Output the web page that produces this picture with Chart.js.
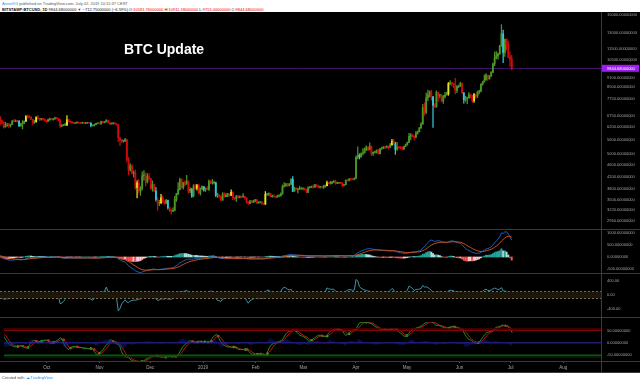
<!DOCTYPE html>
<html><head><meta charset="utf-8"><title>BTC Update</title>
<script src="https://cdn.jsdelivr.net/npm/chart.js@4.4.1/dist/chart.umd.min.js"></script>
<style>
html,body{margin:0;padding:0;width:640px;height:383px;overflow:hidden;background:#fff;font-family:"Liberation Sans",Arial,sans-serif}
#frame{position:absolute;left:0;top:12px;width:640px;height:361px;background:#000}
.pane{position:absolute;left:0;width:640px}
.pane canvas{display:block}
.sep{position:absolute;left:0;width:640px;height:1px;background:#3a3a3a}
.hdr{position:absolute;left:2px;font-size:4px;line-height:5px;white-space:nowrap;color:#555}
#title{position:absolute;left:124px;top:41px;color:#fff;font:bold 14px "Liberation Sans",Arial,sans-serif;white-space:nowrap}
#foot{position:absolute;left:2px;top:375px;font-size:4px;line-height:5px;color:#555;white-space:nowrap}
</style></head><body>
<div class="hdr" style="top:1px"><span style="color:#2196f3">AnnieKG</span> published on TradingView.com, July 02, 2019 10:15:37 CEST</div>
<div class="hdr" style="top:7px;color:#111"><b>BITSTAMP:BTCUSD, 1D</b> 9844.68000000 <span style="color:#e00">▼</span> −712.75000000 (−6.59%) O:<span style="color:#e00">10581.76000000</span> H:<span style="color:#e00">10911.18000000</span> L:<span style="color:#e00">9713.00000000</span> C:<span style="color:#e00">9844.68000000</span></div>
<div id="frame"></div>
<div class="pane" style="top:12px;height:218px"><canvas id="cPrice" width="640" height="218"></canvas></div>
<div class="pane" style="top:230px;height:44px"><canvas id="cMacd" width="640" height="44"></canvas></div>
<div class="pane" style="top:274px;height:44px"><canvas id="cCci" width="640" height="44"></canvas></div>
<div class="pane" style="top:318px;height:54px"><canvas id="cWt" width="640" height="54"></canvas></div>
<div class="sep" style="top:229px"></div>
<div class="sep" style="top:273px"></div>
<div class="sep" style="top:317px"></div>
<div class="sep" style="top:361px"></div>
<div class="sep" style="top:372px"></div>
<div style="position:absolute;left:601px;top:12px;width:1px;height:361px;background:#3a3a3a"></div>
<div id="title">BTC Update</div>
<div id="foot">Created with <span style="color:#2196f3">☁ TradingView</span></div>
<script>
// ---- data (BITSTAMP:BTCUSD daily, from 2018-08-01) ----
const startDate = '2018-08-01';
const firstOpen = 7730;
const closes = [
7600,7540,7410,7010,7030,6940,6720,6280,6540,6150,6240,6310,6250,6190,6270,6310,6580,6390,6490,6260,6470,6360,6530,6700,6720,6710,6910,7080,7040,6980,7030,
7190,7270,7260,7360,6700,6510,6410,6200,6250,6300,6280,6330,6490,6480,6520,6500,6250,6340,6390,6490,6750,6710,6700,6590,6430,6460,6680,6630,6600,6620,
6590,6530,6480,6570,6620,6580,6610,6670,6640,6580,6240,6290,6290,6300,6560,6480,6450,6420,6390,6410,6420,6400,6390,6410,6390,6400,6410,6400,6270,6270,6320,
6370,6390,6360,6480,6420,6460,6530,6420,6350,6380,6390,6360,6310,5700,5600,5560,5560,5620,4800,4420,4570,4300,4310,3850,4000,3750,3820,4230,4250,4020,
4200,4130,3830,3950,3750,3500,3400,3410,3550,3450,3400,3480,3280,3220,3190,3220,3510,3660,3790,4100,3850,4000,3950,4050,3750,3800,3600,3900,3820,3920,3690,
3820,3880,3780,3820,3790,4040,3990,3990,4000,3620,3620,3590,3490,3660,3580,3620,3660,3620,3710,3540,3530,3590,3560,3590,3580,3580,3550,3430,3400,3460,3430,
3460,3500,3410,3420,3440,3390,3380,3650,3650,3680,3590,3610,3590,3570,3590,3610,3660,3880,3900,3960,3910,3950,4110,3740,3830,3800,3810,3810,
3820,3820,3790,3710,3850,3860,3870,3860,3930,3910,3860,3880,3860,3870,3910,4000,3980,3980,4020,4050,3980,3990,4000,3990,3920,3940,4080,4070,4120,4110,4100,
4140,4880,4960,4900,5040,5060,5200,5290,5190,5330,5030,5080,5080,5160,5030,5220,5240,5290,5280,5330,5290,5390,5540,5430,5200,5290,5280,5270,5210,5330,
5400,5490,5760,5820,5780,5720,5910,5980,6160,6340,7220,6960,7800,7980,8190,7870,7350,7260,8150,7950,7950,7620,7880,7990,8060,8730,8800,8740,8660,8270,8550,
8560,8740,8120,7690,7780,7800,8000,7930,7630,8010,7910,8150,8230,8690,8840,8980,9320,9080,9270,9530,10200,10700,10860,11030,11750,12930,11150,12370,11880,10750,
10581.76,9844.68];
const highs = [
7750,7700,7540,7490,7090,7160,7150,6730,6620,6560,6490,6460,6540,6260,6620,6480,6590,6620,6580,6540,6500,6880,6560,6720,6800,6730,6930,7120,7140,7070,7070,
7250,7340,7330,7410,7380,6720,6560,6460,6440,6380,6400,6350,6530,6570,6560,6530,6520,6390,6520,6510,6780,6820,6780,6720,6600,6540,6730,6800,6640,6640,
6640,6610,6540,6600,6650,6630,6630,6700,6680,6640,6580,6320,6310,6390,6780,6600,6500,6480,6420,6420,6460,6430,6410,6450,6420,6420,6420,6420,6410,6290,6340,
6400,6410,6400,6500,6480,6470,6580,6540,6440,6400,6400,6420,6370,6330,5730,5630,5580,5670,5610,4880,4650,4600,4390,4420,4070,4110,3880,4360,4400,4320,
4300,4300,4140,4060,3960,3860,3560,3480,3650,3600,3470,3510,3490,3300,3250,3280,3590,3680,4000,4150,4130,4010,4060,4240,4050,3850,3830,3940,3960,3950,3940,
3840,3900,3880,3840,3880,4090,4070,4110,4050,4020,3680,3640,3610,3700,3690,3680,3680,3670,3780,3720,3570,3620,3620,3610,3590,3670,3600,3560,3450,3480,3480,
3480,3510,3500,3440,3450,3440,3410,3730,3670,3690,3680,3630,3640,3600,3630,3640,3690,3930,4000,3980,3980,3980,4130,4200,3860,3840,3830,3890,
3850,3830,3840,3800,3870,3890,3900,3930,3950,3930,3920,3890,3890,3920,3930,4050,4010,4040,4040,4070,4080,4010,4010,4000,4000,3950,4090,4090,4130,4140,4120,
4160,4940,5300,5020,5060,5230,5260,5350,5300,5470,5340,5100,5130,5180,5200,5240,5290,5320,5340,5350,5340,5450,5630,5620,5500,5500,5320,5310,5300,5340,
5420,5510,5900,5890,5840,5790,5990,6010,6170,6420,7420,7500,8100,8300,8230,8290,7900,7450,8250,8150,8040,8030,7950,8140,8170,8800,8930,8820,8740,9100,8600,
8620,8830,8760,8120,7900,7850,8130,8040,7950,8080,8020,8230,8300,8710,8880,9350,9440,9340,9300,9590,10250,11200,11240,11100,11800,13880,13300,12400,12420,12200,
11200,10911.18];
const lows = [
7460,7460,7300,6960,6880,6850,6680,6140,6200,6060,6000,6160,6170,5880,6170,6220,6290,6310,6300,6240,6250,6280,6360,6480,6660,6610,6690,6880,6990,6860,6880,
7010,7160,7220,7220,6680,6300,6370,6140,6200,6250,6180,6200,6320,6450,6470,6440,6230,6240,6110,6370,6480,6660,6670,6580,6330,6380,6440,6590,6520,6540,
6540,6490,6430,6470,6530,6560,6540,6590,6610,6510,6180,6220,6270,6270,6270,6450,6430,6380,6370,6380,6400,6380,6360,6390,6370,6370,6390,6390,6210,6250,6240,
6320,6360,6350,6330,6400,6400,6450,6400,6330,6350,6340,6350,6300,5530,5350,5490,5500,5530,4710,4250,4380,4290,4180,3800,3550,3680,3620,3780,4080,3900,
3990,4090,3790,3740,3730,3460,3220,3340,3400,3420,3370,3400,3250,3180,3120,3190,3200,3450,3640,3780,3830,3800,3900,3950,3680,3700,3560,3580,3800,3770,3660,
3630,3780,3740,3730,3780,3760,3970,3950,3960,3580,3560,3550,3470,3480,3560,3580,3580,3590,3610,3500,3500,3450,3540,3550,3550,3560,3510,3400,3370,3390,3420,
3420,3440,3400,3400,3410,3370,3370,3370,3620,3610,3580,3560,3570,3550,3570,3590,3600,3650,3860,3890,3880,3900,3940,3730,3740,3780,3690,3790,
3800,3780,3770,3690,3700,3830,3850,3830,3850,3880,3840,3830,3850,3820,3860,3900,3960,3950,3970,4000,3950,3970,3980,3970,3880,3900,3930,4050,4060,4080,4090,
4090,4140,4820,4820,4900,4980,5050,5150,5150,5180,4950,4960,5050,5050,5010,5020,5200,5230,5230,5260,5210,5270,5370,5410,5000,5160,5250,5230,5170,5200,
5310,5380,5480,5600,5730,5600,5700,5860,5970,6130,6340,6800,6890,7630,7850,7660,6180,7230,7260,7590,7800,7550,7470,7800,7960,7960,8650,8560,8440,8050,8130,
8450,8540,8080,7480,7580,7450,7780,7800,7530,7520,7760,7820,8050,8180,8620,8840,8970,8950,9030,9240,9520,10050,10600,10580,10990,11700,10300,10800,11370,10700,
10000,9713];
// candles the original paints yellow (strong up day) / cyan (strong down day)
const yellowDates = ['2018-09-21','2018-09-27','2018-10-15','2018-11-25','2018-12-09','2018-12-30','2019-01-19','2019-02-08','2019-03-16','2019-04-23','2019-05-26','2019-06-10'];
const cyanDates = ['2018-09-17','2018-10-29','2018-12-06','2018-12-13','2018-12-27','2019-01-03','2019-01-10','2019-02-24','2019-04-04','2019-04-25','2019-05-17','2019-06-04','2019-06-27'];
// time axis (day offsets from 2018-10-01)
const monthLabels = ['Oct','Nov','Dec','2019','Feb','Mar','Apr','May','Jun','Jul','Aug'];
const monthDays = [0,31,61,92,123,151,182,212,243,273,304];
// right-axis tick labels
const priceTicks = [15000,13000,11500,10500,9100,8500,7750,6750,6200,5600,5000,4600,4200,3800,3500,3220,2960];
const macdTicks = [1000,500,0,-500];
const cciTicks = [400,0,-400];
const wtTicks = [50,0,-50];
const cciBand = [100,-100];
const wtLevels = [60,53,-53,-60];

// ---- layout / scales ----
const X_MIN = -25.14, X_MAX = 326.2;
const PRICE_MIN = 2756, PRICE_MAX = 15337;
const MACD_MIN = -714, MACD_MAX = 1134;
const CCI_MIN = -657, CCI_MAX = 600;
const WT_MIN = -77, WT_MAX = 88.5;

const DAY = 86400000, T0 = Date.UTC(2018,9,1);
const dayOf = d => Math.round((Date.parse(d) - T0) / DAY);
const startDay = dayOf(startDate);
const xs = closes.map((_, i) => startDay + i);
const opens = closes.map((c, i) => i === 0 ? firstOpen : closes[i-1]); // daily bar opens at prior close
const lastClose = closes[closes.length-1];
const ySet = new Set(yellowDates.map(dayOf)), cSet = new Set(cyanDates.map(dayOf));
const candleColor = xs.map((x, i) => ySet.has(x) ? '#e4e41c' : cSet.has(x) ? '#38c4d6' : (closes[i] >= opens[i] ? '#4c9526' : '#cc0c0c'));

// ---- studies computed from the price arrays (as the original indicators are) ----
function ema(src, n){ const k = 2/(n+1); let p = src[0]; return src.map((v,i) => i === 0 ? (p = v) : (p = v*k + p*(1-k))); }
function sma(src, n){ return src.map((v,i) => { if (i < n-1) return null; let s = 0; for (let j=i-n+1;j<=i;j++) s += src[j]; return s/n; }); }
const hlc3 = closes.map((c,i) => (highs[i] + lows[i] + c) / 3);
const fast = ema(closes,12), slow = ema(closes,26);
const macd = fast.map((v,i) => v - slow[i]);
const signal = ema(macd, 9);
const hist = macd.map((v,i) => v - signal[i]);
const histColor = hist.map((h,i) => { const p = i ? hist[i-1] : h; return h >= 0 ? (h > p ? '#26a69a' : '#b2dfdb') : (h < p ? '#ff5252' : '#ffcdd2'); });
const cci = hlc3.map((v,i) => { const n = 20; if (i < n-1) return null; let m = 0; for (let j=i-n+1;j<=i;j++) m += hlc3[j]; m /= n; let d = 0; for (let j=i-n+1;j<=i;j++) d += Math.abs(hlc3[j]-m); d /= n; return d ? (v-m)/(0.015*d) : 0; });
const esa = ema(hlc3, 10);
const dev = ema(hlc3.map((v,i) => Math.abs(v - esa[i])), 10);
const ci = hlc3.map((v,i) => dev[i] > 0 ? (v - esa[i])/(0.015*dev[i]) : 0);
const wt1 = ema(ci, 21);
const wt2 = sma(wt1, 4);
const wtDiff = wt1.map((v,i) => wt2[i] == null ? null : v - wt2[i]);
const crossPts = [], crossCol = [];
for (let i = 4; i < wt1.length; i++) {
  const a = wt1[i-1]-wt2[i-1], b = wt1[i]-wt2[i];
  if ((a >= 0) !== (b >= 0)) { crossPts.push({x: xs[i], y: wt2[i]}); crossCol.push(b < 0 ? '#ff2a2a' : '#2ee62e'); }
}
const pts = arr => arr.map((v,i) => ({x: xs[i], y: v}));
const hline = v => [{x: X_MIN, y: v}, {x: X_MAX, y: v}];

// ---- chart helpers ----
const FONT = 'Liberation Sans';
const common = {responsive:false, animation:false, devicePixelRatio:1, events:[], layout:{padding:0},
  plugins:{legend:{display:false}, tooltip:{enabled:false}}};
const xHidden = {type:'linear', min:X_MIN, max:X_MAX, offset:false, display:false};
function yAxis(min, max, ticks, fmt, type){
  return {type: type || 'linear', position:'right', min, max,
    afterBuildTicks: s => { s.ticks = ticks.map(v => ({value: v})); },
    afterFit: s => { s.width = 39; s.paddingTop = 0; s.paddingBottom = 0; },
    ticks:{color:'#a3a3a3', font:{size:4, family:FONT}, padding:6, autoSkip:false, maxRotation:0, callback: v => fmt(Number(v))},
    grid:{display:false, drawTicks:false}, border:{display:false}};
}
const lineDs = (data, color, extra) => Object.assign({type:'line', data, borderColor:color, borderWidth:1, pointRadius:0, tension:0, fill:false}, extra || {});

// current price line + label on the price scale
const lastPrice = {id:'lastPrice',
  beforeDatasetsDraw(chart){ const a = chart.chartArea, y = Math.round(chart.scales.y.getPixelForValue(lastClose)) + 0.5, c = chart.ctx;
    c.save(); c.strokeStyle = '#42125f'; c.lineWidth = 1; c.beginPath(); c.moveTo(a.left, y); c.lineTo(a.right, y); c.stroke(); c.restore(); },
  afterDraw(chart){ const a = chart.chartArea, y = chart.scales.y.getPixelForValue(lastClose), c = chart.ctx;
    c.save(); c.fillStyle = '#9d1cf2'; c.fillRect(a.right + 1, y - 3.5, 37, 7);
    c.fillStyle = '#fff'; c.font = '4px ' + FONT; c.textBaseline = 'middle'; c.fillText(lastClose.toFixed(8), a.right + 6, y + 0.3); c.restore(); }};

// price
new Chart(document.getElementById('cPrice'), {type:'bar',
  data:{datasets:[
    {label:'wick', data: xs.map((x,i) => ({x, y:[lows[i], highs[i]]})), backgroundColor: candleColor, barThickness:0.6, grouped:false, order:2},
    {label:'BITSTAMP:BTCUSD', data: xs.map((x,i) => ({x, y:[opens[i], closes[i]]})), backgroundColor: candleColor, barThickness:1.2, minBarLength:0.7, grouped:false, order:1}
  ]},
  options: Object.assign({}, common, {scales:{x:xHidden, y:yAxis(PRICE_MIN, PRICE_MAX, priceTicks, v => v.toFixed(8), 'logarithmic')}}),
  plugins:[lastPrice]});

// MACD
new Chart(document.getElementById('cMacd'), {type:'bar',
  data:{datasets:[
    {label:'hist', data: pts(hist), backgroundColor: histColor, barThickness:1.3, grouped:false, order:3},
    lineDs(pts(macd), '#1b5fb8', {label:'MACD', order:2}),
    lineDs(pts(signal), '#c9531a', {label:'Signal', order:1})
  ]},
  options: Object.assign({}, common, {scales:{x:xHidden, y:yAxis(MACD_MIN, MACD_MAX, macdTicks, v => v.toFixed(8))}})});

// CCI
new Chart(document.getElementById('cCci'), {type:'line',
  data:{datasets:[
    lineDs(hline(cciBand[0]), '#7a6c52', {label:'upper', borderDash:[2,2]}),
    lineDs(hline(cciBand[1]), '#7a6c52', {label:'lower', borderDash:[2,2], fill:'-1', backgroundColor:'#1d160b'}),
    lineDs(pts(cci), '#3a96a8', {label:'CCI'})
  ]},
  options: Object.assign({}, common, {scales:{x:xHidden, y:yAxis(CCI_MIN, CCI_MAX, cciTicks, v => v.toFixed(2))}})});

// WaveTrend + time axis
new Chart(document.getElementById('cWt'), {type:'line',
  data:{datasets:[
    lineDs(pts(wtDiff), 'rgba(0,0,0,0)', {label:'diff', fill:'origin', backgroundColor:'rgba(30,30,190,0.38)', borderWidth:0}),
    lineDs(hline(wtLevels[0]), '#4a0000', {label:'ob1'}),
    lineDs(hline(wtLevels[1]), '#7a0606', {label:'ob2', borderWidth:1.5}),
    lineDs(hline(wtLevels[2]), '#075a07', {label:'os2', borderWidth:1.5}),
    lineDs(hline(wtLevels[3]), '#003a00', {label:'os1'}),
    lineDs(hline(0), '#2c2ca4', {label:'zero'}),
    lineDs(pts(wt1), '#1f8f1f', {label:'wt1'}),
    lineDs(pts(wt2), '#c81414', {label:'wt2'}),
    {type:'line', label:'cross', data: crossPts, showLine:false, pointRadius:1.2, pointBorderWidth:0, pointBackgroundColor: crossCol}
  ]},
  options: Object.assign({}, common, {scales:{
    x:{type:'linear', min:X_MIN, max:X_MAX, offset:false, position:'bottom',
       afterBuildTicks: s => { s.ticks = monthDays.map(v => ({value: v})); },
       afterFit: s => { s.height = 11; s.paddingLeft = 0; s.paddingRight = 0; },
       ticks:{color:'#a3a3a3', font:{size:4.5, family:FONT}, padding:2, autoSkip:false, maxRotation:0, callback:(v,i) => monthLabels[i]},
       grid:{display:true, drawOnChartArea:false, tickLength:2, color:'#555'}, border:{display:false}},
    y: yAxis(WT_MIN, WT_MAX, wtTicks, v => v.toFixed(8))}})});
</script>
</body></html>
